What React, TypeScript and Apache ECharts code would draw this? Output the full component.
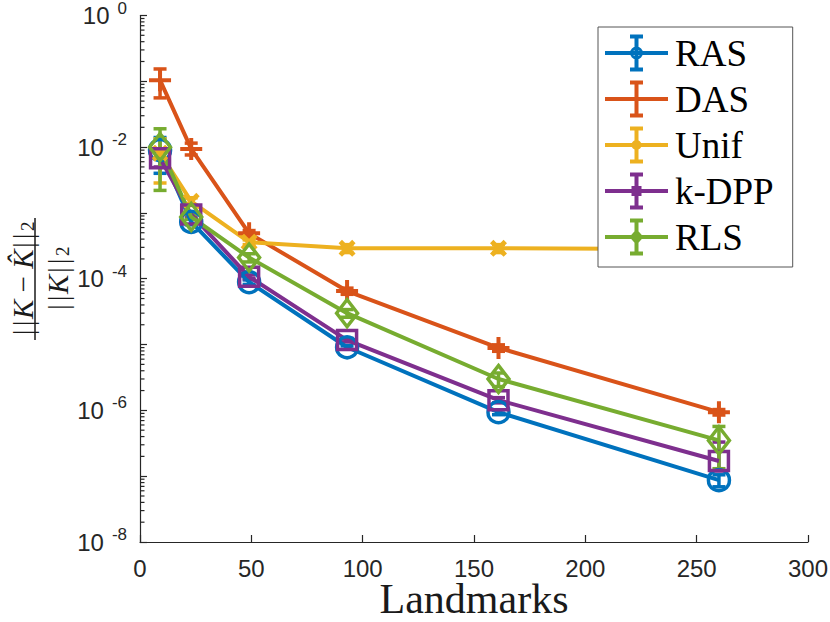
import React, { useEffect, useRef } from "react";
import * as echarts from "echarts";

// ---- data ----
const landmarks = [9, 23, 49, 93, 161, 260];
const seriesNames = ["RAS", "DAS", "Unif", "k-DPP", "RLS"];

const rasMean = [9.0e-3, 7.3e-4, 8.9e-5, 9.1e-6, 9.4e-7, 8.7e-8];
const rasLow = [4.0e-3, 6.6e-4, 8.2e-5, 8.5e-6, 8.6e-7, 6.9e-8];
const rasHigh = [1.4e-2, 8.0e-4, 9.6e-5, 9.7e-6, 1.02e-6, 1.05e-7];

const dasMean = [0.104, 9.4e-3, 4.9e-4, 6.5e-5, 8.9e-6, 9.4e-7];
const dasLow = [0.056, 7.6e-3, 4.4e-4, 5.8e-5, 7.9e-6, 8.5e-7];
const dasHigh = [0.154, 1.15e-2, 5.4e-4, 7.2e-5, 9.9e-6, 1.03e-6];

const unifMean = [8.1e-3, 1.5e-3, 3.6e-4, 2.9e-4, 2.9e-4, 2.8e-4];
const unifLow = [2.85e-3, 1.3e-3, 3.3e-4, 2.5e-4, 2.5e-4, 2.4e-4];
const unifHigh = [1.34e-2, 1.7e-3, 3.9e-4, 3.3e-4, 3.3e-4, 3.2e-4];

const kdppMean = [6.8e-3, 9.5e-4, 1.07e-4, 1.17e-5, 1.43e-6, 1.7e-7];
const kdppLow = [5.0e-3, 8.9e-4, 1.0e-4, 1.1e-5, 1.3e-6, 1.2e-7];
const kdppHigh = [8.6e-3, 1.01e-3, 1.14e-4, 1.24e-5, 1.56e-6, 3.3e-7];

const rlsMean = [1.0e-2, 8.7e-4, 2.1e-4, 3.0e-5, 3.0e-6, 3.5e-7];
const rlsLow = [2.2e-3, 8.0e-4, 1.8e-4, 2.6e-5, 2.3e-6, 1.3e-7];
const rlsHigh = [1.9e-2, 9.4e-4, 2.4e-4, 3.4e-5, 3.7e-6, 5.7e-7];

const xTicks = { min: 0, max: 300, interval: 50 };
const yLabelExponents = [0, -2, -4, -6, -8];
// log-axis minor tick positions (mantissas within each decade)
const minorMantissas = [2, 3, 4, 5, 6, 7, 8, 9];
const minorDecades = [-8, -7, -6, -5, -4, -3, -2, -1];

// ---- styles ----
const COLORS = ["#0072BD", "#D95319", "#EDB120", "#7E2F8E", "#77AC30"];
const AXIS = "#262626";

const rect = (x0: number, y0: number, x1: number, y1: number) =>
  `M${x0},${y0} L${x1},${y0} L${x1},${y1} L${x0},${y1} Z`;
const circ = (cx: number, cy: number, r: number, cw: boolean) => {
  const s = cw ? 1 : 0;
  return `M${cx + r},${cy} A${r},${r} 0 1,${s} ${cx - r},${cy} A${r},${r} 0 1,${s} ${cx + r},${cy} Z`;
};
const IW = 63;
const IH = 37;
const icx = 31.5;
const icy = 18.5;
const baseIcon =
  rect(0, icy - 2, IW, icy + 2) +
  " " +
  rect(icx - 2, 0, icx + 2, IH) +
  " " +
  rect(icx - 6.5, 0, icx + 6.5, 4) +
  " " +
  rect(icx - 6.5, IH - 4, icx + 6.5, IH);
const legendMarkers = [
  circ(icx, icy, 6.5, true) + " " + circ(icx, icy, 3.5, false),
  "",
  circ(icx, icy, 5, true),
  rect(icx - 5, icy - 5, icx + 5, icy + 5),
  `M${icx},${icy - 8} L${icx + 7},${icy} L${icx},${icy + 8} L${icx - 7},${icy} Z`,
];

const plusPath =
  "path://M9,0 L13,0 L13,9 L22,9 L22,13 L13,13 L13,22 L9,22 L9,13 L0,13 L0,9 L9,9 Z";
const xPath =
  "path://M0,4 L4,0 L10,6 L16,0 L20,4 L14,10 L20,16 L16,20 L10,14 L4,20 L0,16 L6,10 Z";

const markerDefs: any[] = [
  { symbol: "circle", size: 21, hollow: true },
  { symbol: plusPath, size: 22, hollow: false },
  { symbol: xPath, size: 17, hollow: false },
  { symbol: "rect", size: 19, hollow: true },
  { symbol: "diamond", size: [21, 27], hollow: true },
];

export default function App() {
  const ref = useRef<HTMLDivElement>(null);

  useEffect(() => {
    if (!ref.current) return;
    const chart = echarts.init(ref.current, null, { renderer: "svg" });

    const means = [rasMean, dasMean, unifMean, kdppMean, rlsMean];
    const lows = [rasLow, dasLow, unifLow, kdppLow, rlsLow];
    const highs = [rasHigh, dasHigh, unifHigh, kdppHigh, rlsHigh];

    const minorTickData: number[][] = [];
    minorDecades.forEach((d) =>
      minorMantissas.forEach((m) => minorTickData.push([1, m * Math.pow(10, d)]))
    );

    const series: any[] = [
      {
        name: "minor ticks",
        type: "custom",
        silent: true,
        clip: false,
        z: 5,
        data: minorTickData,
        encode: { x: 0, y: 1 },
        renderItem: (params: any, api: any) => {
          const p = api.coord([0, api.value(1)]);
          return {
            type: "line",
            shape: { x1: p[0], y1: p[1], x2: p[0] + 4.5, y2: p[1] },
            style: { stroke: AXIS, lineWidth: 1.2 },
          };
        },
      },
    ];
    seriesNames.forEach((name, i) => {
      const color = COLORS[i];
      series.push({
        name: name + " error",
        type: "custom",
        silent: true,
        data: landmarks.map((x, j) => [x, lows[i][j], highs[i][j]]),
        encode: { x: 0, y: [1, 2] },
        renderItem: (params: any, api: any) => {
          const x = api.value(0);
          const pLo = api.coord([x, api.value(1)]);
          const pHi = api.coord([x, api.value(2)]);
          const w = 6.5;
          const style = { stroke: color, lineWidth: 3.5, fill: "none" };
          return {
            type: "group",
            children: [
              { type: "line", shape: { x1: pLo[0], y1: pLo[1], x2: pHi[0], y2: pHi[1] }, style },
              { type: "line", shape: { x1: pLo[0] - w, y1: pLo[1], x2: pLo[0] + w, y2: pLo[1] }, style },
              { type: "line", shape: { x1: pHi[0] - w, y1: pHi[1], x2: pHi[0] + w, y2: pHi[1] }, style },
            ],
          };
        },
      });
      const m = markerDefs[i];
      series.push({
        name,
        type: "line",
        data: landmarks.map((x, j) => [x, means[i][j]]),
        symbol: m.symbol,
        symbolSize: m.size,
        showSymbol: true,
        showAllSymbol: true,
        lineStyle: { color, width: 4 },
        itemStyle: m.hollow
          ? { color: "rgba(0,0,0,0)", borderColor: color, borderWidth: 3.5 }
          : { color, borderWidth: 0 },
        emphasis: { disabled: true },
        silent: true,
      });
    });

    const option: any = {
      animation: false,
      backgroundColor: "#ffffff",
      grid: {
        left: 140,
        right: 22,
        top: 15.5,
        bottom: 80,
        containLabel: false,
        outerBoundsMode: "none",
      },
      xAxis: {
        type: "value",
        min: xTicks.min,
        max: xTicks.max,
        interval: xTicks.interval,
        name: "Landmarks",
        nameLocation: "middle",
        nameGap: 40,
        nameMoveOverlap: false,
        nameTextStyle: {
          fontFamily: "Liberation Serif",
          fontSize: 42,
          color: "#1a1a1a",
          lineHeight: 34,
        },
        axisLine: { show: true, lineStyle: { color: AXIS, width: 1.2 } },
        axisTick: { show: true, inside: true, length: 7, lineStyle: { color: AXIS, width: 1.2 } },
        axisLabel: {
          fontFamily: "Liberation Sans",
          fontSize: 24,
          lineHeight: 24,
          color: AXIS,
          margin: 14,
        },
        splitLine: { show: false },
      },
      yAxis: {
        type: "log",
        logBase: 10,
        min: 1e-8,
        max: 1,
        splitNumber: 8,
        axisLine: { show: true, lineStyle: { color: AXIS, width: 1.2 } },
        axisTick: { show: true, inside: true, length: 7, lineStyle: { color: AXIS, width: 1.2 } },
        minorTick: { show: false },
        splitLine: { show: false },
        minorSplitLine: { show: false },
        axisLabel: {
          margin: 13,
          color: AXIS,
          fontFamily: "Liberation Sans",
          formatter: (v: number) => {
            const e = Math.round(Math.log10(v));
            if (!yLabelExponents.includes(e)) return "";
            return `{b|10}{s|${e}}`;
          },
          rich: {
            b: {
              fontFamily: "Liberation Sans",
              fontSize: 24,
              lineHeight: 24,
              color: AXIS,
              padding: [6, 0, 0, 0],
              verticalAlign: "bottom",
            },
            s: {
              fontFamily: "Liberation Sans",
              fontSize: 17,
              lineHeight: 17,
              color: AXIS,
              padding: [0, 0, 11, 8],
              verticalAlign: "bottom",
            },
          },
        },
      },
      legend: {
        show: true,
        orient: "vertical",
        left: 598,
        top: 27,
        selectedMode: false,
        backgroundColor: "#ffffff",
        borderColor: "#555555",
        borderWidth: 1,
        borderRadius: 0,
        padding: [7.5, 19, 11.5, 7],
        itemWidth: IW,
        itemHeight: IH,
        itemGap: 9,
        symbolKeepAspect: true,
        textStyle: {
          fontFamily: "Liberation Serif",
          fontSize: 37,
          lineHeight: 37,
          color: "#000000",
          padding: [0, 0, 0, 2],
        },
        data: seriesNames.map((name, i) => ({
          name,
          icon: "path://" + baseIcon + " " + legendMarkers[i],
          itemStyle: { color: COLORS[i], borderWidth: 0 },
        })),
      },
      graphic: [
        {
          type: "group",
          x: 35,
          y: 279,
          rotation: Math.PI / 2,
          silent: true,
          children: [
            {
              type: "line",
              shape: { x1: -61, y1: 0, x2: 61, y2: 0 },
              style: { stroke: "#1a1a1a", lineWidth: 1.5 },
            },
            {
              type: "text",
              x: 0,
              y: 1.5,
              style: {
                text: "{v||}{v||}{k|K}{r| − }{k|K\u0302}{v||}{v||}{sub|2}",
                align: "center",
                verticalAlign: "bottom",
                rich: {
                  v: { fontFamily: "Liberation Serif", fontSize: 29, lineHeight: 28, fill: "#1a1a1a", padding: [0, 1.5, 0, 1.5] },
                  k: { fontFamily: "Liberation Serif", fontStyle: "italic", fontSize: 29, lineHeight: 28, fill: "#1a1a1a" },
                  r: { fontFamily: "Liberation Serif", fontSize: 29, lineHeight: 28, fill: "#1a1a1a" },
                  sub: { fontFamily: "Liberation Serif", fontSize: 19, lineHeight: 14, fill: "#1a1a1a", verticalAlign: "bottom", padding: [0, 0, 0, 1] },
                },
              },
            },
            {
              type: "text",
              x: 0,
              y: 8.6,
              style: {
                text: "{v||}{v||}{k|K}{v||}{v||}{sub|2}",
                align: "center",
                verticalAlign: "top",
                rich: {
                  v: { fontFamily: "Liberation Serif", fontSize: 29, lineHeight: 28, fill: "#1a1a1a", padding: [0, 1.5, 0, 1.5] },
                  k: { fontFamily: "Liberation Serif", fontStyle: "italic", fontSize: 29, lineHeight: 28, fill: "#1a1a1a" },
                  sub: { fontFamily: "Liberation Serif", fontSize: 19, lineHeight: 14, fill: "#1a1a1a", verticalAlign: "bottom", padding: [0, 0, 0, 1] },
                },
              },
            },
          ],
        },
      ],
      series,
    };

    chart.setOption(option);
    return () => chart.dispose();
  }, []);

  return (
    <div
      ref={ref}
      style={{ position: "fixed", left: 0, top: 0, width: 830, height: 622, background: "#ffffff" }}
    />
  );
}
